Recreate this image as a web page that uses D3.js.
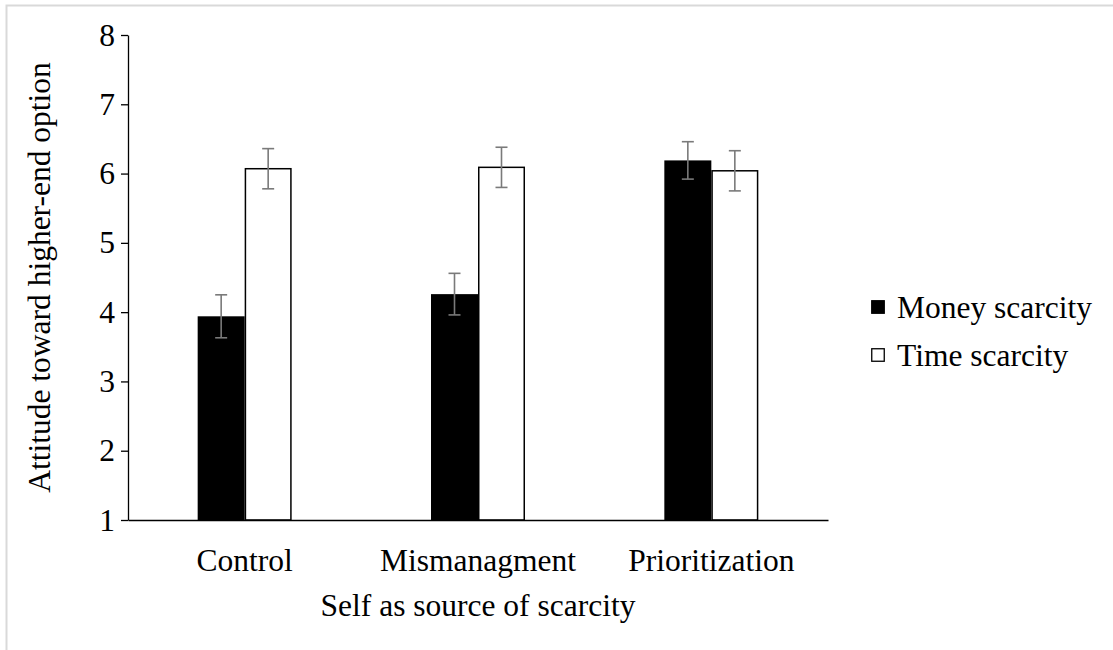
<!DOCTYPE html>
<html>
<head>
<meta charset="utf-8">
<script src="https://cdn.jsdelivr.net/npm/d3@7"></script>
<style>
  html, body { margin: 0; padding: 0; background: #fff; }
  svg { display: block; }
  svg text { font-family: "Liberation Serif", "Times New Roman", serif; fill: #000; }
</style>
</head>
<body>
<svg id="chart" width="1113" height="650"></svg>
<script>
// Attitude toward the higher-end option by source-of-scarcity condition
const categories = ["Control", "Mismanagment", "Prioritization"];
const seriesNames = ["Money scarcity", "Time scarcity"];
const moneyMeans = [3.94, 4.26, 6.19];
const moneyErrors = [0.31, 0.30, 0.27];
const timeMeans = [6.07, 6.09, 6.04];
const timeErrors = [0.29, 0.29, 0.29];
const yTicks = [1, 2, 3, 4, 5, 6, 7, 8];

const FONT = 31.5;
const svg = d3.select("#chart");

// Light frame along the top and left
svg.append("path")
  .attr("d", "M6.5,650 V5.5 H1113")
  .attr("fill", "none")
  .attr("stroke", "#d9d9d9")
  .attr("stroke-width", 2);

const plot = { left: 128, right: 828, top: 35, bottom: 520 };

const x0 = d3.scaleBand().domain(categories).range([plot.left, plot.right]);
const x1 = d3.scaleBand().domain(seriesNames).range([0, 94]);
const y = d3.scaleLinear().domain([1, 8]).range([plot.bottom, plot.top]);

const rows = categories.map((c, i) => ({
  category: c,
  bars: [
    { series: seriesNames[0], value: moneyMeans[i], err: moneyErrors[i] },
    { series: seriesNames[1], value: timeMeans[i], err: timeErrors[i] }
  ]
}));

const groupOffset = (x0.bandwidth() - 94) / 2;

const groups = svg.append("g").selectAll("g")
  .data(rows)
  .join("g")
  .attr("transform", d => `translate(${x0(d.category) + groupOffset},0)`);

groups.selectAll("rect")
  .data(d => d.bars)
  .join("rect")
  .attr("x", d => x1(d.series) + (d.series === seriesNames[1] ? 0.75 : 0))
  .attr("width", d => x1.bandwidth() - (d.series === seriesNames[1] ? 1.5 : 0))
  .attr("y", d => y(d.value))
  .attr("height", d => y(1) - y(d.value))
  .attr("fill", d => d.series === seriesNames[0] ? "#000" : "#fff")
  .attr("stroke", d => d.series === seriesNames[0] ? "none" : "#000")
  .attr("stroke-width", 1.5);

// Error bars
const eb = groups.selectAll("g.err")
  .data(d => d.bars)
  .join("g")
  .attr("class", "err")
  .attr("stroke", "#7a7a7a")
  .attr("stroke-width", 1.6);

const cx = d => x1(d.series) + x1.bandwidth() / 2;
eb.append("line")
  .attr("x1", cx).attr("x2", cx)
  .attr("y1", d => y(d.value + d.err))
  .attr("y2", d => y(d.value - d.err));
eb.append("line")
  .attr("x1", d => cx(d) - 6).attr("x2", d => cx(d) + 6)
  .attr("y1", d => y(d.value + d.err))
  .attr("y2", d => y(d.value + d.err));
eb.append("line")
  .attr("x1", d => cx(d) - 6).attr("x2", d => cx(d) + 6)
  .attr("y1", d => y(d.value - d.err))
  .attr("y2", d => y(d.value - d.err));

// Y axis
const yAxis = svg.append("g")
  .attr("transform", `translate(${plot.left},0)`)
  .call(d3.axisLeft(y).tickValues(yTicks).tickFormat(d3.format("d")).tickSize(7).tickSizeOuter(0).tickPadding(6));
yAxis.attr("font-family", null).attr("font-size", FONT);
yAxis.select(".domain").attr("stroke", "#000").attr("stroke-width", 1.3);
yAxis.selectAll(".tick line").attr("stroke", "#000").attr("stroke-width", 1.3);
yAxis.selectAll(".tick text").attr("fill", "#000");

// X axis
const xAxis = svg.append("g")
  .attr("transform", `translate(0,${plot.bottom})`)
  .call(d3.axisBottom(x0).tickSize(0).tickSizeOuter(0).tickPadding(29));
xAxis.attr("font-family", null).attr("font-size", FONT);
xAxis.select(".domain").attr("stroke", "#000").attr("stroke-width", 1.3);
xAxis.selectAll(".tick text").attr("fill", "#000");

// Axis titles
svg.append("text")
  .attr("x", (plot.left + plot.right) / 2)
  .attr("y", 616)
  .attr("text-anchor", "middle")
  .attr("font-size", FONT)
  .text("Self as source of scarcity");

svg.append("text")
  .attr("transform", `translate(50,${(plot.top + plot.bottom) / 2}) rotate(-90)`)
  .attr("text-anchor", "middle")
  .attr("font-size", FONT)
  .text("Attitude toward higher-end option");

// Legend
const legend = svg.append("g").selectAll("g")
  .data(seriesNames)
  .join("g")
  .attr("transform", (d, i) => `translate(871,${307 + i * 48})`);
legend.append("rect")
  .attr("x", 0.75).attr("y", -6.25)
  .attr("width", 12.5).attr("height", 12.5)
  .attr("fill", (d, i) => i === 0 ? "#000" : "#fff")
  .attr("stroke", "#000").attr("stroke-width", 1.3);
legend.append("text")
  .attr("x", 26).attr("y", 10.5)
  .attr("font-size", FONT)
  .text(d => d);
</script>
</body>
</html>
